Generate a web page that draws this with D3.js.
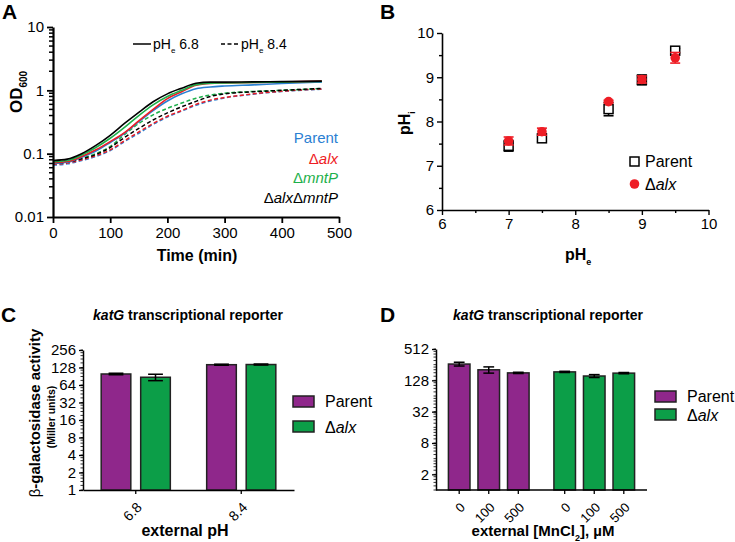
<!DOCTYPE html>
<html>
<head>
<meta charset="utf-8">
<script src="https://cdn.jsdelivr.net/npm/d3@7"></script>
<style>
body { margin: 0; background: #fff; }
svg { font-family: "Liberation Sans", Arial, sans-serif; }
.axis path, .axis line { stroke: #000; }
.axis text { font-size: 14px; fill: #000; font-family: "Liberation Sans", Arial, sans-serif; }
</style>
</head>
<body>
<script>
//panel A: growth curves, OD600 over time
var times = [0, 25, 50, 75, 100, 125, 150, 175, 200, 225, 250, 275, 300, 350, 400, 470];
var parent68 = [0.070, 0.073, 0.088, 0.110, 0.150, 0.210, 0.320, 0.480, 0.680, 0.880, 1.060, 1.130, 1.170, 1.220, 1.280, 1.350];
var alx68    = [0.072, 0.075, 0.090, 0.115, 0.155, 0.215, 0.330, 0.500, 0.740, 0.950, 1.200, 1.290, 1.310, 1.330, 1.350, 1.400];
var mntP68   = [0.075, 0.078, 0.095, 0.125, 0.175, 0.260, 0.400, 0.590, 0.800, 1.000, 1.230, 1.300, 1.310, 1.330, 1.350, 1.380];
var alxMntP68 = [0.078, 0.082, 0.100, 0.135, 0.195, 0.300, 0.450, 0.660, 0.880, 1.080, 1.290, 1.350, 1.350, 1.360, 1.370, 1.400];
var parent84 = [0.066, 0.069, 0.078, 0.090, 0.112, 0.155, 0.210, 0.290, 0.380, 0.470, 0.580, 0.680, 0.760, 0.870, 0.960, 1.040];
var alx84    = [0.068, 0.071, 0.080, 0.093, 0.115, 0.160, 0.220, 0.300, 0.390, 0.480, 0.600, 0.700, 0.770, 0.880, 0.970, 1.050];
var mntP84   = [0.072, 0.075, 0.085, 0.100, 0.130, 0.200, 0.300, 0.410, 0.520, 0.630, 0.750, 0.840, 0.900, 0.960, 1.000, 1.070];
var alxMntP84 = [0.070, 0.073, 0.083, 0.097, 0.125, 0.180, 0.250, 0.340, 0.440, 0.550, 0.670, 0.800, 0.880, 0.950, 1.000, 1.070];
var strainNames = ["Parent", "alx", "mntP", "alxmntP"];
var strainColors = ["#2a80d2", "#ee1d25", "#1db04b", "#000000"];

//panel B: internal vs external pH
var pHe = [7, 7.5, 8.5, 9, 9.5];
var pHiParent = [7.45, 7.62, 8.28, 8.94, 9.60];
var pHiParentErr = [0.12, 0.08, 0.15, 0.11, 0.05];
var pHiAlx = [7.56, 7.77, 8.45, 8.95, 9.44];
var pHiAlxErr = [0.09, 0.08, 0.03, 0.08, 0.12];

//panel C: katG reporter vs external pH
var groupsC = ["6.8", "8.4"];
var katGParentC = [99, 143];
var katGParentCErr = [3, 3];
var katGAlxC = [87, 144];
var katGAlxCErr = [11, 3];
var ticksC = [1, 2, 4, 8, 16, 32, 64, 128, 256];

//panel D: katG reporter vs MnCl2
var mnConc = ["0", "100", "500"];
var katGParentD = [263, 204, 178];
var katGParentDErr = [22, 28, 5];
var katGAlxD = [186, 155, 176];
var katGAlxDErr = [5, 10, 5];
var ticksD = [2, 8, 32, 128, 512];

var purple = "#8f278b",
    green = "#0c9e48";

var svg = d3.select("body").append("svg")
    .attr("width", 735)
    .attr("height", 542);

//panel letters
[["A", 2, 19], ["B", 380, 19], ["C", 1, 322], ["D", 380, 322]].forEach(function(p){
    svg.append("text").attr("x", p[1]).attr("y", p[2])
        .style("font-size", "21px").style("font-weight", "bold").text(p[0]);
});

//helper for text with subscript
function subText(sel, main, sub, rest, size, subSize){
    sel.append("tspan").text(main);
    sel.append("tspan").attr("dy", size * 0.3).style("font-size", subSize + "px").text(sub);
    if (rest) sel.append("tspan").attr("dy", -size * 0.3).text(rest);
    return sel;
}

//strain label with italic parts
function strainLabel(sel, name){
    if (name == "Parent") { sel.append("tspan").text("Parent"); return; }
    if (name == "alx" || name == "mntP") {
        sel.append("tspan").text("\u0394");
        sel.append("tspan").style("font-style", "italic").text(name);
        return;
    }
    sel.append("tspan").text("\u0394");
    sel.append("tspan").style("font-style", "italic").text("alx");
    sel.append("tspan").text("\u0394");
    sel.append("tspan").style("font-style", "italic").text("mntP");
}

setPanelA();
setPanelB();
setPanelC();
setPanelD();

function setPanelA(){
    var x = d3.scaleLinear().domain([0, 500]).range([53, 339]);
    var y = d3.scaleLog().domain([0.01, 10]).range([217, 27]);

    var solid = [parent68, alx68, mntP68, alxMntP68];
    var dashed = [parent84, alx84, mntP84, alxMntP84];

    var line = d3.line()
        .x(function(d, i){ return x(times[i]); })
        .y(function(d){ return y(d); })
        .curve(d3.curveMonotoneX);

    dashed.forEach(function(vals, i){
        svg.append("path").datum(vals).attr("d", line)
            .attr("fill", "none").attr("stroke", strainColors[i])
            .attr("stroke-width", 1.5).attr("stroke-dasharray", "4,2.5");
    });
    solid.forEach(function(vals, i){
        svg.append("path").datum(vals).attr("d", line)
            .attr("fill", "none").attr("stroke", strainColors[i])
            .attr("stroke-width", 1.6);
    });

    //axes
    var yAxis = svg.append("g").attr("class", "axis")
        .attr("transform", "translate(53,0)")
        .call(d3.axisLeft(y).tickValues([0.01, 0.1, 1, 10]).tickFormat(d3.format("~g")).tickSize(6).tickSizeOuter(0));
    var minor = [];
    [0.01, 0.1, 1].forEach(function(dec){
        for (var k = 2; k < 10; k++) minor.push(dec * k);
    });
    yAxis.selectAll(".minor").data(minor).enter().append("line")
        .attr("x1", -4).attr("x2", 0)
        .attr("y1", function(d){ return y(d); }).attr("y2", function(d){ return y(d); })
        .attr("stroke", "#000").attr("stroke-width", 1.5);

    var xAxis = svg.append("g").attr("class", "axis")
        .attr("transform", "translate(0,217)")
        .call(d3.axisBottom(x).tickValues(d3.range(0, 501, 100)).tickSize(6).tickSizeOuter(0));
    [yAxis, xAxis].forEach(function(a){
        a.select(".domain").attr("stroke-width", 2.2);
        a.selectAll(".tick line").attr("stroke-width", 1.8);
        a.selectAll("text").style("font-size", "15px");
    });
    xAxis.selectAll("text").attr("y", 10);

    svg.append("text").attr("x", 197).attr("y", 261).attr("text-anchor", "middle")
        .style("font-size", "16px").style("font-weight", "bold").text("Time (min)");
    subText(svg.append("text").attr("transform", "translate(22,113) rotate(-90)")
        .style("font-size", "17px").style("font-weight", "bold"), "OD", "600", null, 17, 10);

    //pH legend
    svg.append("line").attr("x1", 133).attr("x2", 151).attr("y1", 44).attr("y2", 44)
        .attr("stroke", "#000").attr("stroke-width", 1.5);
    subText(svg.append("text").attr("x", 153).attr("y", 49).style("font-size", "14px"), "pH", "e", " 6.8", 14, 8);
    svg.append("line").attr("x1", 221).attr("x2", 240).attr("y1", 44).attr("y2", 44)
        .attr("stroke", "#000").attr("stroke-width", 1.5).attr("stroke-dasharray", "4,2.5");
    subText(svg.append("text").attr("x", 241).attr("y", 49).style("font-size", "14px"), "pH", "e", " 8.4", 14, 8);

    //strain legend
    var legY = [143, 164, 183, 203];
    strainNames.forEach(function(n, i){
        var t = svg.append("text").attr("x", 338).attr("y", legY[i])
            .attr("text-anchor", "end").style("font-size", "15px")
            .attr("fill", strainColors[i]);
        strainLabel(t, n);
    });
}

function setPanelB(){
    var x = d3.scaleLinear().domain([6, 10]).range([442, 708.5]);
    var y = d3.scaleLinear().domain([6, 10]).range([210, 33]);

    var yAxis = svg.append("g").attr("class", "axis")
        .attr("transform", "translate(442,0)")
        .call(d3.axisLeft(y).tickValues(d3.range(6, 10.01, 0.5))
            .tickFormat(function(d){ return d % 1 == 0 ? d : ""; }).tickSize(5).tickSizeOuter(0));
    var xAxis = svg.append("g").attr("class", "axis")
        .attr("transform", "translate(0,210)")
        .call(d3.axisBottom(x).tickValues(d3.range(6, 10.01, 0.5))
            .tickFormat(function(d){ return d % 1 == 0 ? d : ""; }).tickSize(5).tickSizeOuter(0));
    [yAxis, xAxis].forEach(function(a){
        a.select(".domain").attr("stroke-width", 1.6);
        a.selectAll(".tick line").attr("stroke-width", 1.4);
        a.selectAll("text").style("font-size", "15px");
    });
    yAxis.selectAll(".tick").filter(function(d){ return d % 1 != 0; }).select("line").attr("x2", -3);
    xAxis.selectAll(".tick").filter(function(d){ return d % 1 != 0; }).select("line").attr("y2", 3);
    xAxis.selectAll("text").attr("y", 8);

    //error bars
    function errBars(vals, errs, color){
        var g = svg.append("g");
        pHe.forEach(function(px, i){
            var cx = x(px);
            var y0 = y(vals[i] - errs[i]), y1 = y(vals[i] + errs[i]);
            g.append("line").attr("x1", cx).attr("x2", cx).attr("y1", y0).attr("y2", y1)
                .attr("stroke", color).attr("stroke-width", 1.6);
            [y0, y1].forEach(function(yy){
                g.append("line").attr("x1", cx - 5).attr("x2", cx + 5).attr("y1", yy).attr("y2", yy)
                    .attr("stroke", color).attr("stroke-width", 1.6);
            });
        });
    }
    errBars(pHiParent, pHiParentErr, "#000");
    svg.selectAll(".sqB").data(pHiParent).enter().append("rect")
        .attr("x", function(d, i){ return x(pHe[i]) - 4.5; })
        .attr("y", function(d){ return y(d) - 4.5; })
        .attr("width", 9).attr("height", 9)
        .attr("fill", "#fff").attr("stroke", "#000").attr("stroke-width", 1.5);
    errBars(pHiAlx, pHiAlxErr, "#ee1d25");
    svg.selectAll(".dotB").data(pHiAlx).enter().append("circle")
        .attr("cx", function(d, i){ return x(pHe[i]); })
        .attr("cy", function(d){ return y(d); })
        .attr("r", 4.8).attr("fill", "#ee1d25");

    //legend
    svg.append("rect").attr("x", 630).attr("y", 157).attr("width", 9).attr("height", 9)
        .attr("fill", "#fff").attr("stroke", "#000").attr("stroke-width", 1.5);
    svg.append("text").attr("x", 645).attr("y", 167).style("font-size", "16px").text("Parent");
    svg.append("circle").attr("cx", 634.5).attr("cy", 184).attr("r", 4.8).attr("fill", "#ee1d25");
    strainLabel(svg.append("text").attr("x", 645).attr("y", 190).style("font-size", "16px"), "alx");

    subText(svg.append("text").attr("x", 565).attr("y", 260)
        .style("font-size", "16px").style("font-weight", "bold"), "pH", "e", null, 16, 9);
    subText(svg.append("text").attr("transform", "translate(410,135) rotate(-90)")
        .style("font-size", "16px").style("font-weight", "bold"), "pH", "i", null, 16, 9);
}

//minor ticks for a log2 axis
function log2Minor(lo, hi){
    var out = [];
    for (var a = lo; a < hi; a *= 2) {
        for (var k = 0; k < 5; k++) out.push(a * (1 + k / 5));
    }
    out.push(hi);
    return out;
}

function styleBarAxes(yAxis, xAxis, tickFont){
    [yAxis, xAxis].forEach(function(a){
        a.select(".domain").attr("stroke-width", 1.5);
        a.selectAll(".tick line").attr("stroke-width", 1.3);
    });
    yAxis.selectAll("text").style("font-size", "15px");
    xAxis.selectAll("text")
        .style("font-size", tickFont + "px")
        .attr("text-anchor", "end")
        .attr("x", -8).attr("y", 13).attr("dy", "0.35em")
        .attr("transform", "rotate(-45)");
}

function drawBar(g, cx, w, y, val, err, fill){
    g.append("rect").attr("x", cx - w / 2).attr("y", y(val))
        .attr("width", w).attr("height", y.range()[0] - y(val))
        .attr("fill", fill).attr("stroke", "#222").attr("stroke-width", 1.5);
    var y0 = y(val - err), y1 = y(val + err);
    g.append("line").attr("x1", cx).attr("x2", cx).attr("y1", y0).attr("y2", y1)
        .attr("stroke", "#000").attr("stroke-width", 1.5);
    [y0, y1].forEach(function(yy){
        g.append("line").attr("x1", cx - w / 4).attr("x2", cx + w / 4).attr("y1", yy).attr("y2", yy)
            .attr("stroke", "#000").attr("stroke-width", 1.5);
    });
}

function barLegend(x, y1, y2, size){
    svg.append("rect").attr("x", x).attr("y", y1 - 11).attr("width", 21).attr("height", 11)
        .attr("fill", purple).attr("stroke", "#222").attr("stroke-width", 1.5);
    svg.append("text").attr("x", x + 32).attr("y", y1).style("font-size", size + "px").text("Parent");
    svg.append("rect").attr("x", x).attr("y", y2 - 11).attr("width", 21).attr("height", 11)
        .attr("fill", green).attr("stroke", "#222").attr("stroke-width", 1.5);
    strainLabel(svg.append("text").attr("x", x + 32).attr("y", y2 + 1).style("font-size", size + "px"), "alx");
}

function barTitle(cx){
    var t = svg.append("text").attr("x", cx).attr("y", 320).attr("text-anchor", "middle")
        .style("font-size", "14px").style("font-weight", "bold");
    t.append("tspan").style("font-style", "italic").text("katG");
    t.append("tspan").text(" transcriptional reporter");
}

function setPanelC(){
    var x0 = d3.scaleBand().domain(groupsC).range([83, 294]);
    var x1 = d3.scaleBand().domain(["Parent", "alx"]).range([0, x0.bandwidth()])
        .paddingInner(0.25).paddingOuter(0.46);
    var y = d3.scaleLog().base(2).domain([1, 256]).range([490, 350]);

    var g = svg.append("g");
    groupsC.forEach(function(grp, i){
        drawBar(g, x0(grp) + x1("Parent") + x1.bandwidth() / 2, x1.bandwidth(), y, katGParentC[i], katGParentCErr[i], purple);
        drawBar(g, x0(grp) + x1("alx") + x1.bandwidth() / 2, x1.bandwidth(), y, katGAlxC[i], katGAlxCErr[i], green);
    });

    var yAxis = svg.append("g").attr("class", "axis").attr("transform", "translate(83,0)")
        .call(d3.axisLeft(y).tickValues(ticksC).tickFormat(d3.format("d")).tickSize(4).tickSizeOuter(0));
    yAxis.selectAll(".minor").data(log2Minor(1, 256)).enter().append("line")
        .attr("x1", -2.5).attr("x2", 0)
        .attr("y1", function(d){ return y(d); }).attr("y2", function(d){ return y(d); })
        .attr("stroke", "#000").attr("stroke-width", 0.8);
    var xAxis = svg.append("g").attr("class", "axis").attr("transform", "translate(0,490)")
        .call(d3.axisBottom(x0).tickSize(4).tickSizeOuter(0));
    styleBarAxes(yAxis, xAxis, 14);

    barTitle(188);
    svg.append("text").attr("x", 185).attr("y", 536).attr("text-anchor", "middle")
        .style("font-size", "16px").style("font-weight", "bold").text("external pH");

    var lab = svg.append("text").attr("transform", "translate(40,413) rotate(-90)")
        .attr("text-anchor", "middle").style("font-size", "15px");
    lab.append("tspan").text("\u03b2");
    lab.append("tspan").style("font-weight", "bold").text("-galactosidase activity");
    svg.append("text").attr("transform", "translate(55,417) rotate(-90)")
        .attr("text-anchor", "middle").style("font-size", "10.5px").style("font-weight", "bold")
        .text("(Miller units)");

    barLegend(293, 407, 432, 16);
}

function setPanelD(){
    var x0 = d3.scaleBand().domain(["Parent", "alx"]).range([436, 647]);
    var x1 = d3.scaleBand().domain(mnConc).range([0, x0.bandwidth()])
        .paddingInner(0.27).paddingOuter(0.42);
    var y = d3.scaleLog().base(2).domain([1, 512]).range([490, 349]);

    var g = svg.append("g");
    mnConc.forEach(function(c, i){
        drawBar(g, x0("Parent") + x1(c) + x1.bandwidth() / 2, x1.bandwidth(), y, katGParentD[i], katGParentDErr[i], purple);
        drawBar(g, x0("alx") + x1(c) + x1.bandwidth() / 2, x1.bandwidth(), y, katGAlxD[i], katGAlxDErr[i], green);
    });

    var yAxis = svg.append("g").attr("class", "axis").attr("transform", "translate(436,0)")
        .call(d3.axisLeft(y).tickValues(ticksD).tickFormat(d3.format("d")).tickSize(4).tickSizeOuter(0));
    yAxis.selectAll(".minor").data(log2Minor(1, 512)).enter().append("line")
        .attr("x1", -2.5).attr("x2", 0)
        .attr("y1", function(d){ return y(d); }).attr("y2", function(d){ return y(d); })
        .attr("stroke", "#000").attr("stroke-width", 0.8);

    //one tick per bar on the x axis
    var xAxis = svg.append("g").attr("class", "axis").attr("transform", "translate(0,490)");
    xAxis.append("path").attr("class", "domain").attr("d", "M436,0H647").attr("stroke", "#000");
    var tickData = [];
    ["Parent", "alx"].forEach(function(s){
        mnConc.forEach(function(c){
            tickData.push({x: x0(s) + x1(c) + x1.bandwidth() / 2, label: c});
        });
    });
    var ticks = xAxis.selectAll(".tick").data(tickData).enter().append("g")
        .attr("class", "tick").attr("transform", function(d){ return "translate(" + d.x + ",0)"; });
    ticks.append("line").attr("y2", 4).attr("stroke", "#000");
    ticks.append("text").text(function(d){ return d.label; });
    styleBarAxes(yAxis, xAxis, 13);

    barTitle(548);
    var t = svg.append("text").attr("x", 543).attr("y", 536).attr("text-anchor", "middle")
        .style("font-size", "15px").style("font-weight", "bold");
    subText(t, "external [MnCl", "2", "], \u00b5M", 15, 9);

    barLegend(655, 402, 420, 16);
}
</script>
</body>
</html>
